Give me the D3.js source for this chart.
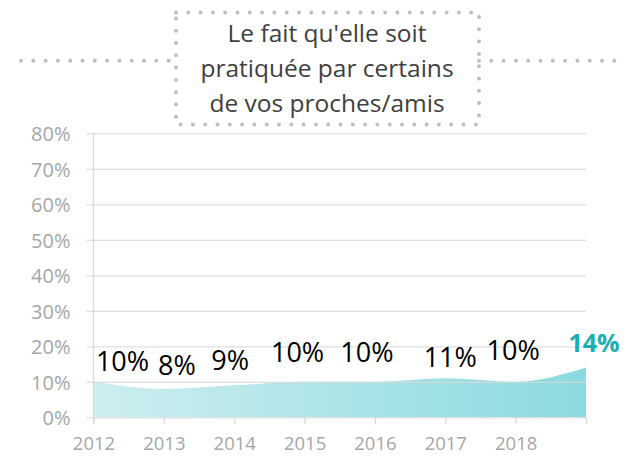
<!DOCTYPE html>
<html>
<head>
<meta charset="utf-8">
<script src="https://cdn.jsdelivr.net/npm/d3@7/dist/d3.min.js"></script>
<style>
  html, body { margin: 0; padding: 0; background: #fff; }
  svg { display: block; font-family: "Open Sans", sans-serif; }
</style>
</head>
<body>
<svg id="chart" width="631" height="456"></svg>
<script>
// Share of respondents citing the reason, per survey year
const tickLabels = ["2012", "2013", "2014", "2015", "2016", "2017", "2018", ""];
const values = [10, 8, 9, 10, 10, 11, 10, 14];
const yTicks = [0, 10, 20, 30, 40, 50, 60, 70, 80];
const titleLines = ["Le fait qu'elle soit", "pratiquée par certains", "de vos proches/amis"];
// label nudges relative to each point: [dx, dy]
const labelNudge = [[29, -11], [13, -14], [-4, -15], [-7, -19.5], [-8, -19.5], [5, -11.5], [-2.5, -22], [8, -16]];

const svg = d3.select("#chart");
const plotLeft = 93.5, plotRight = 586, plotTop = 133.3, plotBottom = 417.3;
const font = "'Open Sans', sans-serif";

const x = d3.scalePoint().domain(d3.range(values.length)).range([plotLeft, plotRight]);
const y = d3.scaleLinear().domain([0, 80]).range([plotBottom, plotTop]);

// gradient for the area
const defs = svg.append("defs");
const grad = defs.append("linearGradient").attr("id", "areaGrad")
  .attr("x1", "0%").attr("x2", "100%").attr("y1", "0%").attr("y2", "0%");
grad.append("stop").attr("offset", "0%").attr("stop-color", "#cdeef0");
grad.append("stop").attr("offset", "100%").attr("stop-color", "#8bdadf");

// area
const area = d3.area()
  .x((d, i) => x(i))
  .y0(y(0))
  .y1(d => y(d))
  .curve(d3.curveMonotoneX);
svg.append("path").datum(values)
  .attr("d", area)
  .attr("fill", "url(#areaGrad)");

// y axis with gridlines
const yAxis = svg.append("g")
  .attr("transform", `translate(${plotLeft},0)`)
  .call(d3.axisLeft(y).tickValues(yTicks).tickFormat(d => d + "%")
    .tickSizeInner(-(plotRight - plotLeft)).tickSizeOuter(0).tickPadding(23))
  .attr("font-family", font);
yAxis.select(".domain").remove();
yAxis.selectAll(".tick line")
  .attr("x1", -7).attr("x2", plotRight - plotLeft)
  .attr("stroke", "#d9d9d9").attr("stroke-width", 1.3).attr("stroke-opacity", 0.85);
yAxis.selectAll(".tick text")
  .attr("fill", "#a6a6a6").style("font-size", "20px").attr("dy", "0.36em");

// vertical axis line
svg.append("line")
  .attr("x1", plotLeft).attr("x2", plotLeft)
  .attr("y1", y(80)).attr("y2", y(0) + 7)
  .attr("stroke", "#d9d9d9").attr("stroke-width", 1.3);

// x axis
const xAxis = svg.append("g")
  .attr("transform", `translate(0,${plotBottom})`)
  .call(d3.axisBottom(x).tickFormat(i => tickLabels[i]).tickSize(7).tickPadding(0))
  .attr("font-family", font);
xAxis.select(".domain").remove();
xAxis.selectAll(".tick line").attr("stroke", "#d9d9d9").attr("stroke-width", 1.3);
xAxis.selectAll(".tick text")
  .attr("fill", "#a6a6a6").style("font-size", "18.5px")
  .attr("y", 32.5).attr("dy", 0);

// value labels
const last = values.length - 1;
svg.append("g").selectAll("text").data(values).join("text")
  .attr("x", (d, i) => x(i) + labelNudge[i][0])
  .attr("y", (d, i) => y(d) + labelNudge[i][1])
  .attr("text-anchor", "middle")
  .attr("fill", (d, i) => i === last ? "#1aaeb3" : "#000")
  .style("font-size", (d, i) => i === last ? "25px" : "27px")
  .style("font-weight", (d, i) => i === last ? "700" : "400")
  .text(d => d + "%");

// dotted title frame and side rules
const dot = { stroke: "#bfbfbf", width: 4 };
function dotted(sel, spacing) {
  return sel.attr("fill", "none").attr("stroke", dot.stroke)
    .attr("stroke-width", dot.width).attr("stroke-linecap", "round")
    .attr("stroke-dasharray", `0 ${spacing}`);
}
dotted(svg.append("line").attr("x1", 21).attr("x2", 176).attr("y1", 60.7).attr("y2", 60.7), 12.3);
dotted(svg.append("line").attr("x1", 479).attr("x2", 623).attr("y1", 60.7).attr("y2", 60.7), 12.3);
dotted(svg.append("rect").attr("x", 176).attr("y", 12.5).attr("width", 303).attr("height", 112), 12.3);

// title
const title = svg.append("text")
  .attr("text-anchor", "middle")
  .attr("fill", "#404040")
  .style("font-size", "24.5px");
title.selectAll("tspan").data(titleLines).join("tspan")
  .attr("x", 327)
  .attr("y", (d, i) => 42.3 + i * 34.7)
  .text(d => d);
</script>
</body>
</html>
